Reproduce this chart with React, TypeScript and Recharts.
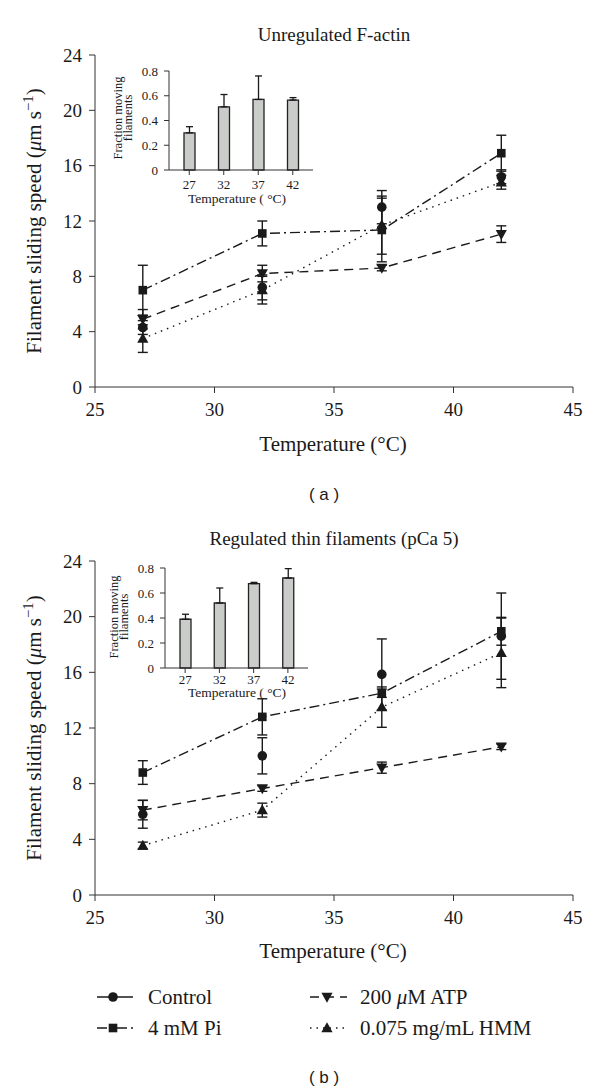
import React from "react";
import { ComposedChart, Line, XAxis, YAxis, ErrorBar, BarChart, Bar } from "recharts";

const TEMPS = [27, 32, 37, 42];
const X_TICKS = [25, 30, 35, 40, 45];
const Y_TICKS = [0, 4, 8, 12, 16, 20, 24];
const INSET_TICKS = [0, 0.2, 0.4, 0.6, 0.8];

// (a) unregulated F-actin, speed in um/s
const A_CONTROL = [4.3, 7.2, 13.0, 15.2];
const A_CONTROL_ERR = [0.5, 0.9, 1.2, 0.5];
const A_PI = [7.0, 11.1, 11.35, 16.9];
const A_PI_ERR = [1.8, 0.9, 2.3, 1.3];
const A_ATP = [4.9, 8.2, 8.6, 11.05];
const A_ATP_ERR = [0.7, 0.6, 0.2, 0.6];
const A_HMM = [3.5, 7.0, 11.7, 14.8];
const A_HMM_ERR = [1.0, 1.0, 2.1, 0.5];

// (b) regulated thin filaments, pCa 5
const B_CONTROL = [5.8, 10.0, 15.85, 18.6];
const B_CONTROL_ERR = [1.0, 1.3, 2.55, 3.1];
const B_PI = [8.8, 12.8, 14.5, 18.95];
const B_PI_ERR = [0.85, 1.3, 0.3, 1.0];
const B_ATP = [6.1, 7.65, 9.15, 10.65];
const B_ATP_ERR = [0.7, 0.2, 0.4, 0.2];
const B_HMM = [3.55, 6.1, 13.5, 17.4];
const B_HMM_ERR = [0.25, 0.5, 1.45, 2.5];

// insets: fraction of moving filaments (upper error only)
const INSET_A = [0.3, 0.51, 0.57, 0.565];
const INSET_A_ERR = [0.05, 0.1, 0.19, 0.02];
const INSET_B = [0.39, 0.52, 0.675, 0.72];
const INSET_B_ERR = [0.04, 0.12, 0.01, 0.075];

const SERIES = [
  { key: "control", name: "Control", shape: "circle", dash: "" },
  { key: "pi", name: "4 mM Pi", shape: "square", dash: "10 4 2 4" },
  { key: "atp", name: "200 μM ATP", shape: "down", dash: "9 6" },
  { key: "hmm", name: "0.075 mg/mL HMM", shape: "up", dash: "1.5 5" },
];

const INK = "#1a1a1a";
const AXIS = "#333";
const SERIF = "'Liberation Serif', 'DejaVu Serif', serif";
const PLOT_LEFT = 95;
const PLOT_RIGHT = 573;
const CHART_H = 450;

function Marker({ shape, cx, cy }: { shape: string; cx: number; cy: number }) {
  if (shape === "circle") return <circle cx={cx} cy={cy} r={4.8} fill={INK} />;
  if (shape === "square") return <rect x={cx - 4.3} y={cy - 4.3} width={8.6} height={8.6} fill={INK} />;
  if (shape === "up")
    return <polygon points={`${cx},${cy - 5.8} ${cx - 5.6},${cy + 4.2} ${cx + 5.6},${cy + 4.2}`} fill={INK} />;
  return <polygon points={`${cx},${cy + 5.8} ${cx - 5.6},${cy - 4.2} ${cx + 5.6},${cy - 4.2}`} fill={INK} />;
}

function rows(c: number[], ce: number[], p: number[], pe: number[], a: number[], ae: number[], h: number[], he: number[]) {
  return TEMPS.map((t, i) => ({
    t,
    control: c[i], controlErr: ce[i],
    pi: p[i], piErr: pe[i],
    atp: a[i], atpErr: ae[i],
    hmm: h[i], hmmErr: he[i],
  }));
}

const DATA_A = rows(A_CONTROL, A_CONTROL_ERR, A_PI, A_PI_ERR, A_ATP, A_ATP_ERR, A_HMM, A_HMM_ERR);
const DATA_B = rows(B_CONTROL, B_CONTROL_ERR, B_PI, B_PI_ERR, B_ATP, B_ATP_ERR, B_HMM, B_HMM_ERR);

function Panel({ top, plotTop, plotBottom, data }: { top: number; plotTop: number; plotBottom: number; data: any[] }) {
  const margin = {
    top: plotTop - top,
    right: 600 - PLOT_RIGHT,
    left: PLOT_LEFT - 60,
    bottom: CHART_H - 30 - (plotBottom - top),
  };
  return (
    <div style={{ position: "absolute", left: 0, top, width: 600, height: CHART_H }}>
      <ComposedChart width={600} height={CHART_H} data={data} margin={margin}>
        <XAxis
          dataKey="t" type="number" domain={[25, 45]} ticks={X_TICKS} height={30}
          stroke={AXIS} tickSize={6} tickMargin={10}
          tick={{ fontSize: 19, fill: INK, fontFamily: SERIF }}
        />
        <XAxis xAxisId="top" orientation="top" type="number" domain={[25, 45]} height={0} tick={false} tickLine={false} stroke={AXIS} />
        <YAxis
          type="number" domain={[0, 24]} ticks={Y_TICKS} width={60}
          stroke={AXIS} tickSize={6} tickMargin={7}
          tick={{ fontSize: 19, fill: INK, fontFamily: SERIF }}
        />
        <YAxis yAxisId="r" orientation="right" domain={[0, 24]} width={0} tick={false} tickLine={false} stroke={AXIS} />
        {SERIES.map((s) => (
          <Line
            key={s.key}
            dataKey={s.key}
            type="linear"
            stroke={s.dash ? INK : "none"}
            strokeWidth={1.4}
            strokeDasharray={s.dash || undefined}
            isAnimationActive={false}
            activeDot={false}
            dot={(p: any) => <Marker key={`${s.key}-${p.index}`} shape={s.shape} cx={p.cx} cy={p.cy} />}
          >
            <ErrorBar dataKey={`${s.key}Err`} direction="y" width={5} stroke={INK} strokeWidth={1.4} isAnimationActive={false} />
          </Line>
        ))}
      </ComposedChart>
    </div>
  );
}

function Inset({ left, top, plotLeft, plotRight, plotTop, plotBottom, values, errs, tickMargin }: any) {
  const W = 230;
  const H = 160;
  const data = TEMPS.map((t, i) => ({ t: String(t), v: values[i], e: [0, errs[i]] }));
  return (
    <div style={{ position: "absolute", left, top, width: W, height: H, zIndex: 2 }}>
      <BarChart
        width={W} height={H} data={data}
        margin={{ left: plotLeft - left - 30, right: left + W - plotRight, top: plotTop - top, bottom: top + H - plotBottom - 20 }}
      >
        <XAxis
          dataKey="t" height={20} padding={{ left: 3, right: 3 }} stroke={AXIS} tickSize={5} tickMargin={tickMargin}
          tick={{ fontSize: 13, fill: INK, fontFamily: SERIF }}
        />
        <YAxis
          domain={[0, 0.8]} ticks={INSET_TICKS} width={30} stroke={AXIS} tickSize={5} tickMargin={6}
          tickFormatter={(v: number) => (v === 0 ? "0" : v.toFixed(1))}
          tick={{ fontSize: 13, fill: INK, fontFamily: SERIF }}
        />
        <Bar dataKey="v" fill="#c9ccc9" stroke="#222" strokeWidth={1.3} barSize={11} isAnimationActive={false}>
          <ErrorBar dataKey="e" direction="y" width={3.5} stroke={INK} strokeWidth={1.3} isAnimationActive={false} />
        </Bar>
      </BarChart>
    </div>
  );
}

function Abs({ x, y, rotate, size, children, family }: any) {
  return (
    <div
      style={{
        position: "absolute", left: x, top: y, whiteSpace: "nowrap", fontSize: size, lineHeight: 1,
        fontFamily: family || SERIF, color: INK, zIndex: 3,
        transform: `translate(-50%, -50%)${rotate ? " rotate(-90deg)" : ""}`,
      }}
    >
      {children}
    </div>
  );
}

function InsetLabels({ cx, cy, xLabelY }: any) {
  return (
    <>
      <Abs x={cx} y={cy - 5} rotate size={12.5}>Fraction moving</Abs>
      <Abs x={cx + 10} y={cy - 5} rotate size={12.5}>filaments</Abs>
      <Abs x={237} y={xLabelY} size={13.5}>Temperature ( °C)</Abs>
    </>
  );
}

function Legend() {
  const cols = [
    { lx1: 97, lx2: 133, mx: 113, tx: 148 },
    { lx1: 310, lx2: 347, mx: 327, tx: 360 },
  ];
  const place = [
    { col: 0, y: 17 },
    { col: 0, y: 48 },
    { col: 1, y: 17 },
    { col: 1, y: 48 },
  ];
  return (
    <svg width={600} height={70} style={{ position: "absolute", left: 0, top: 980 }}>
      {SERIES.map((s, i) => {
        const c = cols[place[i].col];
        const y = place[i].y;
        return (
          <g key={s.key}>
            <line x1={c.lx1} x2={c.lx2} y1={y} y2={y} stroke={INK} strokeWidth={1.5} strokeDasharray={s.dash || undefined} />
            <Marker shape={s.shape} cx={c.mx} cy={y} />
            <text x={c.tx} y={y + 7} fontSize={21} fontFamily={SERIF} fill={INK}>
              {s.key === "atp" ? (
                <>200 <tspan fontStyle="italic">μ</tspan>M ATP</>
              ) : (
                s.name
              )}
            </text>
          </g>
        );
      })}
    </svg>
  );
}

const Y_LABEL = (
  <>
    Filament sliding speed (<i>μ</i>m s<sup style={{ fontSize: "0.7em" }}>−1</sup>)
  </>
);

export default function App() {
  return (
    <div style={{ position: "absolute", left: 0, top: 0, width: 600, height: 1090, background: "#fff", fontFamily: SERIF, overflow: "hidden" }}>
      <Abs x={334} y={34} size={19}>Unregulated F-actin</Abs>
      <Panel top={0} plotTop={55} plotBottom={387} data={DATA_A} />
      <Inset left={100} top={50} plotLeft={169} plotRight={313} plotTop={71} plotBottom={170} values={INSET_A} errs={INSET_A_ERR} tickMargin={5} />
      <InsetLabels cx={118} cy={123} xLabelY={199} />
      <Abs x={33} y={221} rotate size={21}>{Y_LABEL}</Abs>
      <Abs x={333} y={444} size={21}>Temperature (°C)</Abs>
      <Abs x={324} y={494} size={17} family="'Liberation Sans', Arial, sans-serif">( a )</Abs>

      <Abs x={334} y={538} size={19}>Regulated thin filaments (pCa 5)</Abs>
      <Panel top={506} plotTop={561} plotBottom={895} data={DATA_B} />
      <Inset left={100} top={547} plotLeft={165} plotRight={308} plotTop={568} plotBottom={668} values={INSET_B} errs={INSET_B_ERR} tickMargin={2} />
      <InsetLabels cx={114} cy={622} xLabelY={693} />
      <Abs x={33} y={728} rotate size={21}>{Y_LABEL}</Abs>
      <Abs x={333} y={951} size={21}>Temperature (°C)</Abs>
      <Legend />
      <Abs x={324} y={1077} size={17} family="'Liberation Sans', Arial, sans-serif">( b )</Abs>
    </div>
  );
}
